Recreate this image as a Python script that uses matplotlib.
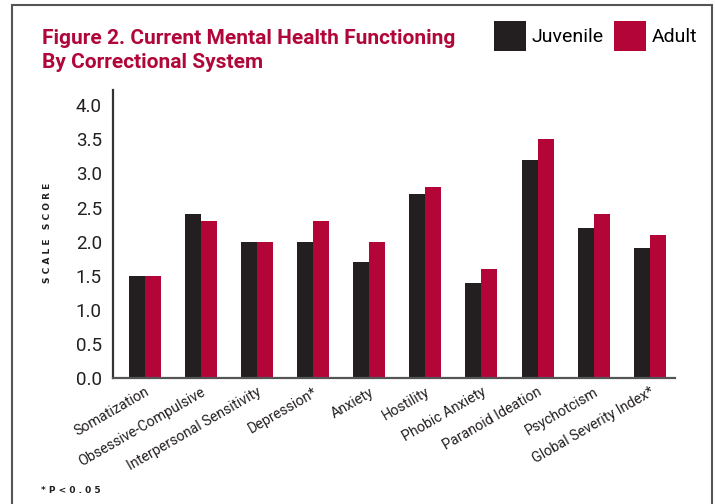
import numpy as np
import matplotlib
matplotlib.use("Agg")
from matplotlib import pyplot as plt
from matplotlib.patches import Rectangle

plt.rcParams['font.family'] = ['Roboto', 'DejaVu Sans']

# data
categories = ["Somatization", "Obsessive-Compulsive", "Interpersonal Sensitivity",
              "Depression*", "Anxiety", "Hostility", "Phobic Anxiety",
              "Paranoid Ideation", "Psychotcism", "Global Severity Index*"]
juvenile = [1.5, 2.4, 2.0, 2.0, 1.7, 2.7, 1.4, 3.2, 2.2, 1.9]
adult = [1.5, 2.3, 2.0, 2.3, 2.0, 2.8, 1.6, 3.5, 2.4, 2.1]
yticks = [0.0, 0.5, 1.0, 1.5, 2.0, 2.5, 3.0, 3.5, 4.0]

dark = '#231f20'
red = '#b40538'

fig = plt.figure(figsize=(7.15, 5.04), dpi=100)
ax = fig.add_axes([0.158, 0.25, 0.786, 0.571])

x = np.arange(len(categories))
w = 0.285
b1 = ax.bar(x - w/2, juvenile, w, color=dark, label='Juvenile')
b2 = ax.bar(x + w/2, adult, w, color=red, label='Adult')

ax.set_xlim(-0.57, 9.45)
ax.set_ylim(0, 4.22)
ax.set_yticks(yticks)
ax.set_yticklabels(["%.1f" % v for v in yticks], fontsize=13.5, color='#231f20')
ax.tick_params(axis='y', length=0, pad=8)
ax.tick_params(axis='x', length=0, pad=5)
ax.set_xticks(x)
ax.set_xticklabels(categories, rotation=30, ha='right', rotation_mode='anchor',
                   fontsize=10.3, color='#231f20')
ax.spines['top'].set_visible(False)
ax.spines['right'].set_visible(False)
ax.spines['left'].set_color('#333333')
ax.spines['bottom'].set_color('#555555')
ax.spines['left'].set_linewidth(1.6)
ax.spines['bottom'].set_linewidth(1.6)

# y label, letter spaced
fig.text(0.067, 0.538, "S C A L E   S C O R E", rotation=90, ha='center', va='center',
         fontsize=6.5, fontweight='bold', color='#231f20', family='DejaVu Sans')

# title
fig.text(0.059, 0.942, "Figure 2. Current Mental Health Functioning\nBy Correctional System",
         ha='left', va='top', fontsize=15, fontweight='bold', color='#b0063a',
         linespacing=1.3)

# legend
fig.legend(handles=[b1, b2], loc='upper left', bbox_to_anchor=(0.691, 0.958), ncol=2,
           frameon=False, fontsize=14, handlelength=1.65, handleheight=2.0,
           handletextpad=0.3, columnspacing=0.5, borderaxespad=0, borderpad=0)

# footnote
fig.text(0.057, 0.027, "* P < 0 . 0 5", ha='left', va='center', fontsize=6.5,
         fontweight='bold', color='#231f20', family='DejaVu Sans')

# frame around the figure
fig.add_artist(Rectangle((12/715, -0.1), 700/715, 1.09, transform=fig.transFigure,
                         fill=False, edgecolor='#555555', lw=1.5))

fig.savefig('out.png', dpi=100)
